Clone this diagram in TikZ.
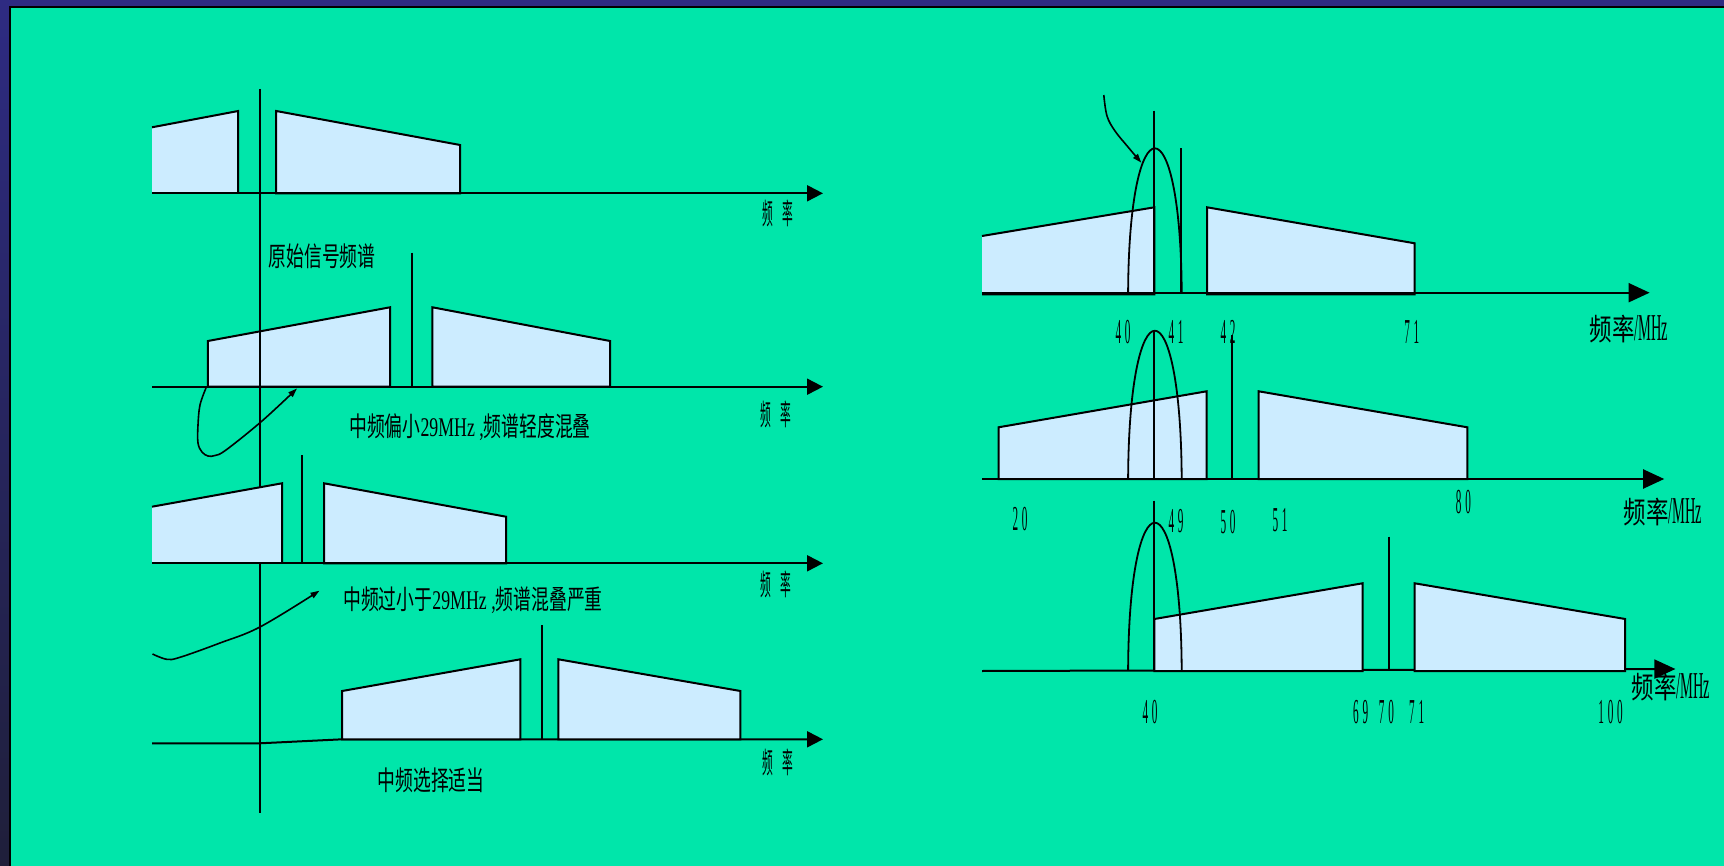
\documentclass[tikz,border=0pt]{standalone}
\usepackage{fontspec}
\setmainfont{Liberation Serif}
\newfontfamily\cjk{Noto Sans CJK SC}
\usetikzlibrary{arrows.meta}
\definecolor{bgnavy}{HTML}{2E2B82}
\definecolor{bgdark}{HTML}{1F1F3A}
\definecolor{bggreen}{HTML}{00E6AA}
\definecolor{bandfill}{HTML}{CCECFF}
\newcommand{\sqz}[2]{\scalebox{#1}[1]{#2}}
\newcommand{\lefttxt}[1]{\sqz{0.66}{\fontsize{27}{27}\selectfont #1}}
\newcommand{\freqL}{\sqz{0.37}{\fontsize{29}{29}\selectfont\cjk 频\hspace{0.9em}率}}
\newcommand{\freqR}{\sqz{0.75}{\fontsize{30}{30}\selectfont\cjk 频率}\sqz{0.38}{\fontsize{38}{38}\selectfont /MHz}}
\newcommand{\dgt}[1]{\sqz{0.32}{\fontsize{35}{35}\selectfont #1}}
\newcommand{\gp}{\kern.34em}
\begin{document}
\begin{tikzpicture}[x=1pt,y=-1pt,
  band/.style={fill=bandfill,draw=black,line width=2pt,line join=miter},
  bandfillonly/.style={fill=bandfill},
  edge/.style={draw=black,line width=2pt,line join=miter},
  axisL/.style={line width=2pt,-{Triangle[length=16pt,width=16pt]}},
  axisR/.style={line width=2pt,-{Triangle[length=21pt,width=19pt]}},
  carrier/.style={line width=2pt},
  arch/.style={line width=1.8pt},
  note/.style={line width=1.6pt,-{Triangle[length=9pt,width=6pt]}},
  lbl/.style={inner sep=0pt,text=black}]
% background
\useasboundingbox (0,0) rectangle (1724,866);
\fill[bgnavy] (0,0) rectangle (1724,866);
\shade[top color=bgnavy,bottom color=bgdark] (0,0) rectangle (9,866);
\fill[black] (9,6) rectangle (1724,866);
\fill[bggreen] (11,8) rectangle (1724,866);

% ---------- Panel A ----------
\fill[bandfillonly] (152,127.3) -- (238.2,111) -- (238.2,193.3) -- (152,193.3) -- cycle;
\draw[edge] (152,127.3) -- (238.2,111) -- (238.2,193.3);
\draw[band] (276.2,193.3) -- (276.2,111) -- (460.1,145) -- (460.1,193.3) -- cycle;
\coordinate (aS) at (152,193.3); \coordinate (aE) at (823,193.3);
\draw[axisL] (aS) -- (aE);
\node[lbl] (fA) at (778,213) {\freqL};
\node[lbl] (tA) at (322,256.5) {\lefttxt{\cjk 原始信号频谱}};

% ---------- Panel B ----------
\draw[band] (207.9,386.7) -- (207.9,341) -- (390,307.3) -- (390,386.7) -- cycle;
\draw[carrier] (412.3,252.7) -- (412.3,386.7);
\draw[band] (432.4,386.7) -- (432.4,307.3) -- (610,341) -- (610,386.7) -- cycle;
\coordinate (bS) at (152,386.7); \coordinate (bE) at (823,386.7);
\draw[axisL] (bS) -- (bE);
\coordinate (bL0) at (206,388); \coordinate (bL1) at (297,388.5);
\draw[note] plot[smooth,tension=0.6] coordinates {(bL0) (200,405) (198,425) (198,443) (202,452) (208,456) (215,455.5) (226,450) (262,421) (bL1)};
\node[lbl] (fB) at (776,414) {\freqL};
\node[lbl] (tB) at (470,427.5) {\lefttxt{{\cjk 中频偏小}29MHz ,{\cjk 频谱轻度混叠}}};

% vertical axis
\coordinate (vT) at (260,89); \coordinate (vB) at (260,813.3);
\draw[line width=1.5pt] (vT) -- (vB);

% ---------- Panel C ----------
\fill[bandfillonly] (152,506.7) -- (282,483.3) -- (282,563.3) -- (152,563.3) -- cycle;
\draw[edge] (152,506.7) -- (282,483.3) -- (282,563.3);
\draw[carrier] (302,455) -- (302,563.3);
\draw[band] (324,563.3) -- (324,483.3) -- (506,516.7) -- (506,563.3) -- cycle;
\coordinate (cS) at (152,563.3); \coordinate (cE) at (823,563.3);
\draw[axisL] (cS) -- (cE);
\coordinate (cL0) at (152.5,654); \coordinate (cL1) at (319.5,590.7);
\draw[note] plot[smooth,tension=0.6] coordinates {(cL0) (166.8,659.3) (180,657.3) (220,643) (260.5,626.7) (cL1)};
\node[lbl] (fC) at (776,584) {\freqL};
\node[lbl] (tC) at (473,600.5) {\lefttxt{{\cjk 中频过小于}29MHz ,{\cjk 频谱混叠严重}}};

% ---------- Panel D ----------
\coordinate (dS) at (152,743.3); \coordinate (dE) at (823,739.3);
\draw[axisL] (dS) -- (260,743.3) -- (342.2,739.3) -- (dE);
\draw[band] (342.2,739.3) -- (342.2,691) -- (520.4,659.3) -- (520.4,739.3) -- cycle;
\draw[carrier] (542.2,625) -- (542.2,739.3);
\draw[band] (558.3,739.3) -- (558.3,659.3) -- (740.4,691) -- (740.4,739.3) -- cycle;
\node[lbl] (fD) at (778,762.7) {\freqL};
\node[lbl] (tD) at (431,780.7) {\lefttxt{\cjk 中频选择适当}};

% ---------- Panel E ----------
\fill[bandfillonly] (982,236) -- (1154.4,207.3) -- (1154.4,294.5) -- (982,294.5) -- cycle;
\draw[edge] (982,236) -- (1154.4,207.3) -- (1154.4,294.5) -- (982,294.5);
\draw[band] (1207,294.5) -- (1207,207.3) -- (1414.7,243.3) -- (1414.7,294.5) -- cycle;
\coordinate (eS) at (982,292.7); \coordinate (eE) at (1649.6,292.7);
\draw[axisR] (eS) -- (eE);
\draw[carrier] (1154.4,110.7) -- (1154.4,292.7);
\draw[carrier] (1180.8,148.3) -- (1180.8,292.7);
\draw[arch] (1128.1,292.7) .. controls (1129,100.2) and (1180.7,100.2) .. (1181.7,292.7);
\coordinate (eA0) at (1103.8,95); \coordinate (eA1) at (1141.3,162.7);
\draw[note] plot[smooth,tension=0.6] coordinates {(eA0) (1107,116) (1115,131) (1128,147) (eA1)};
\node[lbl] at (1123,331.7) {\dgt{4\gp 0}};
\node[lbl] at (1176,331.7) {\dgt{4\gp 1}};
\node[lbl] at (1228,331.7) {\dgt{4\gp 2}};
\node[lbl] at (1411.8,331.7) {\dgt{7\gp 1}};
\node[lbl] (fE) at (1629,329) {\freqR};

% ---------- Panel F ----------
\draw[band] (998.5,479) -- (998.5,427.3) -- (1206.6,391.3) -- (1206.6,479) -- cycle;
\draw[band] (1258.7,479) -- (1258.7,391.3) -- (1467.3,427.3) -- (1467.3,479) -- cycle;
\draw[carrier] (1232.4,335) -- (1232.4,479);
\draw[carrier] (1154.4,330.7) -- (1154.4,479);
\draw[arch] (1128.1,479) .. controls (1129,281.3) and (1180.7,281.3) .. (1181.7,479);
\coordinate (fS) at (982,479); \coordinate (fE2) at (1664.2,479);
\draw[axisR] (fS) -- (fE2);
\node[lbl] at (1020,519.3) {\dgt{2\gp 0}};
\node[lbl] at (1176,520.7) {\dgt{4\gp 9}};
\node[lbl] at (1228,521.7) {\dgt{5\gp 0}};
\node[lbl] at (1280,520) {\dgt{5\gp 1}};
\node[lbl] at (1463.4,501.7) {\dgt{8\gp 0}};
\node[lbl] (fF) at (1663,512) {\freqR};

% ---------- Panel G ----------
\coordinate (gS) at (982,671); \coordinate (gE) at (1675.4,669);
\draw[axisR] (gS) -- (gE);
\draw[band] (1154.4,671) -- (1154.4,619) -- (1362.5,583.3) -- (1362.5,671) -- cycle;
\draw[band] (1414.7,671) -- (1414.7,583.3) -- (1625.2,619) -- (1625.2,671) -- cycle;
\draw[carrier] (1388.9,536.7) -- (1388.9,669.5);
\draw[carrier] (1154.4,500.7) -- (1154.4,671);
\draw[arch] (1128.1,670) .. controls (1129,473.6) and (1180.7,473.6) .. (1181.7,670);
\node[lbl] at (1150,711.7) {\dgt{4\gp 0}};
\node[lbl] at (1360.6,711.7) {\dgt{6\gp 9}};
\node[lbl] at (1386.4,711.7) {\dgt{7\gp 0}};
\node[lbl] at (1416.6,711.7) {\dgt{7\gp 1}};
\node[lbl] at (1610.6,711.7) {\dgt{1\gp 0\gp 0}};
\node[lbl] (fG) at (1671,687) {\freqR};
\end{tikzpicture}
\end{document}
